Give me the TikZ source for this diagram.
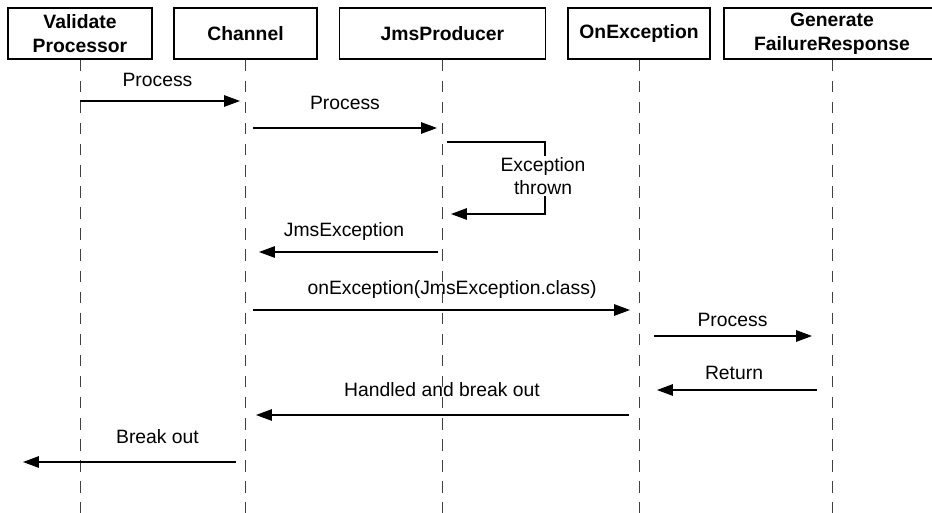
\documentclass[tikz,border=0pt]{standalone}
\usepackage{fontspec}
\setmainfont{Liberation Sans}
\usetikzlibrary{arrows.meta}

\tikzset{
    object/.style = {draw, line width = 0.8pt, align = center, inner sep = 0pt,
        minimum height = 1.02cm, font = \bfseries\fontsize{11}{13.5}\selectfont},
    lifeline/.style = {line width = 0.5pt, black!75, dash pattern = on 6.5pt off 5.5pt},
    message/.style = {line width = 0.7pt, -{Triangle[length = 9pt, width = 6.5pt]}},
    msglabel/.style = {inner sep = 1pt, align = center, font = \fontsize{11}{13}\selectfont}
}

\begin{document}
\begin{tikzpicture}[x = 0.02cm, y = -0.02cm]
    \useasboundingbox (0,0) rectangle (932,513);
    % draw objects
    \node[object, minimum width = 2.88cm] (vp) at (80,33.5) {Validate\\Processor};
    \node[object, minimum width = 2.86cm] (ch) at (245.5,33.5) {Channel};
    \node[object, minimum width = 4.12cm] (jp) at (442.5,33.5) {JmsProducer};
    \node[object, minimum width = 2.84cm] (oe) at (639,33.5) {OnException};
    \node[object, minimum width = 4.32cm] (gf) at (832,33.5) {Generate\\FailureResponse};
    % draw lifelines
    \foreach \obj in {vp, ch, jp, oe, gf} {
        \coordinate (\obj-end) at (\obj.south |- 0,513);
        \draw[lifeline] (\obj.south) -- (\obj-end);
    }
    % calculate message end points
    \coordinate (m1a) at (80,101);   \coordinate (m1b) at (240,101);
    \coordinate (m2a) at (253,128);  \coordinate (m2b) at (437,128);
    \coordinate (x1) at (447,142);   \coordinate (x2) at (545,142);
    \coordinate (x3) at (545,214);   \coordinate (x4) at (451,214);
    \coordinate (m4a) at (438,252);  \coordinate (m4b) at (259,252);
    \coordinate (m5a) at (253,310);  \coordinate (m5b) at (630,310);
    \coordinate (m6a) at (654,336);  \coordinate (m6b) at (812,336);
    \coordinate (m7a) at (817,390);  \coordinate (m7b) at (657,390);
    \coordinate (m8a) at (629,415);  \coordinate (m8b) at (256,415);
    \coordinate (m9a) at (236,462);  \coordinate (m9b) at (23,462);
    % draw messages
    \draw[message] (m1a) -- (m1b);
    \node[msglabel] (l1) at (157.5,80) {Process};
    \draw[message] (m2a) -- (m2b);
    \node[msglabel] (l2) at (345,103) {Process};
    \draw[message] (x1) -- (x2) -- (x3) -- (x4);
    \node[msglabel, fill = white] (lx) at (543,176) {Exception\\thrown};
    \draw[message] (m4a) -- (m4b);
    \node[msglabel] (l4) at (344,232) {JmsException};
    \draw[message] (m5a) -- (m5b);
    \node[msglabel] (l5) at (452,290) {onException(JmsException.class)};
    \draw[message] (m6a) -- (m6b);
    \node[msglabel] (l6) at (732.5,320) {Process};
    \draw[message] (m7a) -- (m7b);
    \node[msglabel] (l7) at (734,373) {Return};
    \draw[message] (m8a) -- (m8b);
    \node[msglabel] (l8) at (442,390) {Handled and break out};
    \draw[message] (m9a) -- (m9b);
    \node[msglabel] (l9) at (157.5,437) {Break out};
\end{tikzpicture}
\end{document}
